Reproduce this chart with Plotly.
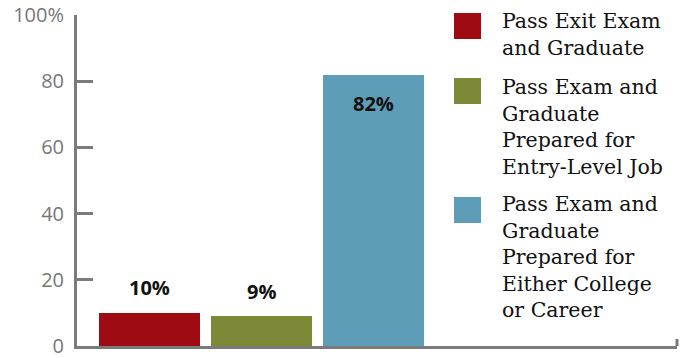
import plotly.graph_objects as go

categories = ["Pass Exit Exam and Graduate",
              "Pass Exam and Graduate Prepared for Entry-Level Job",
              "Pass Exam and Graduate Prepared for Either College or Career"]
values = [10, 9, 82]
value_labels = ["10%", "9%", "82%"]
colors = ["#9E0B12", "#7E8937", "#5E9DB8"]
legend_lines = [["Pass Exit Exam", "and Graduate"],
                ["Pass Exam and", "Graduate", "Prepared for", "Entry-Level Job"],
                ["Pass Exam and", "Graduate", "Prepared for", "Either College", "or Career"]]
tick_vals = [0, 20, 40, 60, 80, 100]
tick_text = ["0", "20", "40", "60", "80", "100%"]

W, H = 684, 358
L, R, T, B = 77, 7, 15, 12
pw, ph = W - L - R, H - T - B
AXC = "#7b7b7b"

def px_x(x):
    return (x - L) / pw

def px_y(y):
    return (H - B - y) / ph

xs = list(range(len(values)))
fig = go.Figure()
fig.add_trace(go.Bar(x=xs, y=values, width=0.9, marker_color=colors,
                     marker_line_width=0, showlegend=False, hoverinfo="skip"))

# value labels
for i, (v, t) in enumerate(zip(values, value_labels)):
    shift = -29 if v > 50 else 25
    fig.add_annotation(x=i, y=v, text="<b>%s</b>" % t, showarrow=False,
                       yshift=shift, font=dict(family="Open Sans", size=20, color="#111111"))

# legend
swatch_tops = [13, 78, 197]
line_tops = [21, 87, 204]
spacing = 26.5
for k, (lines, c) in enumerate(zip(legend_lines, colors)):
    y0 = swatch_tops[k]
    fig.add_shape(type="rect", xref="paper", yref="paper",
                  x0=px_x(454), x1=px_x(481), y0=px_y(y0 + 26), y1=px_y(y0),
                  fillcolor=c, line_width=0)
    for j, ln in enumerate(lines):
        fig.add_annotation(xref="paper", yref="paper", x=px_x(500),
                           y=px_y(line_tops[k] + j * spacing), xanchor="left",
                           yanchor="middle", text=ln, showarrow=False,
                           font=dict(family="DejaVu Serif", size=20.5, color="#111111"))

# small tick at right end of x axis
fig.add_shape(type="line", xref="paper", yref="paper", x0=1, x1=1,
              y0=0, y1=px_y(339), line=dict(color=AXC, width=3))

fig.update_layout(
    width=W, height=H, margin=dict(l=L, r=R, t=T, b=B, autoexpand=False),
    plot_bgcolor="white", paper_bgcolor="white", bargap=0,
    xaxis=dict(range=[-0.647, 4.71], showticklabels=False, ticks="",
               showgrid=False, zeroline=False, showline=True, automargin=False,
               linecolor=AXC, linewidth=3, fixedrange=True),
    yaxis=dict(range=[0, 100], tickvals=tick_vals, ticktext=tick_text,
               ticks="inside", ticklen=16, tickwidth=3, tickcolor=AXC,
               showgrid=False, zeroline=False, showline=True, automargin=False,
               linecolor=AXC, linewidth=3, ticklabelstandoff=6,
               ticklabeloverflow="allow",
               tickfont=dict(family="Open Sans", size=20, color="#777777", weight=500),
               fixedrange=True),
)
fig.write_html("out.html")
